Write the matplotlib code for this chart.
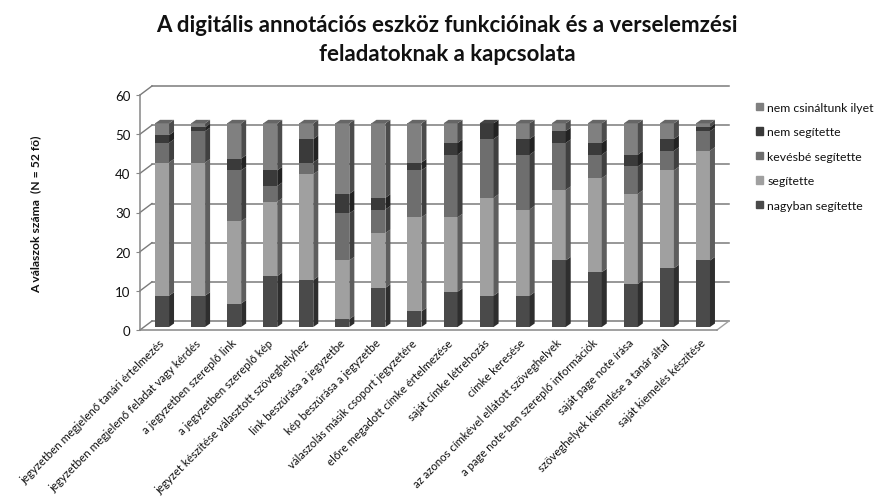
import matplotlib
matplotlib.use('Agg')
import matplotlib.pyplot as plt
from matplotlib.patches import Polygon
from matplotlib.transforms import ScaledTranslation

plt.rcParams['font.family'] = ['Lato', 'DejaVu Sans']

kategoriak = ['jegyzetben megjelenő tanári értelmezés',
              'jegyzetben megjelenő feladat vagy kérdés',
              'a jegyzetben szereplő link',
              'a jegyzetben szereplő kép',
              'jegyzet készítése választott szöveghelyhez',
              'link beszúrása a jegyzetbe',
              'kép beszúrása a jegyzetbe',
              'válaszolás másik csoport jegyzetére',
              'előre megadott címke értelmezése',
              'saját címke létrehozás',
              'címke keresése',
              'az azonos címkével ellátott szöveghelyek',
              'a page note-ben szereplő információk',
              'saját page note írása',
              'szöveghelyek kiemelése a tanár által',
              'saját kiemelés készítése']

nagyban = [8, 8, 6, 13, 12, 2, 10, 4, 9, 8, 8, 17, 14, 11, 15, 17]
segitette = [34, 34, 21, 19, 27, 15, 14, 24, 19, 25, 22, 18, 24, 23, 25, 28]
kevesbe = [5, 8, 13, 4, 3, 12, 6, 12, 16, 15, 14, 12, 6, 7, 5, 5]
nem_seg = [2, 1, 3, 4, 6, 5, 3, 2, 3, 4, 4, 3, 3, 3, 3, 1]
nem_csin = [3, 1, 9, 12, 4, 18, 19, 10, 5, 0, 4, 2, 5, 8, 4, 1]

sorozatok = [nagyban, segitette, kevesbe, nem_seg, nem_csin]
nevek = ['nagyban segítette', 'segítette', 'kevésbé segítette', 'nem segítette', 'nem csináltunk ilyet']
szinek = ['#4a4a4a', '#a0a0a0', '#6e6e6e', '#3a3a3a', '#808080']
oldal = ['#2e2e2e', '#5e5e5e', '#404040', '#222222', '#4c4c4c']
teteje = ['#5c5c5c', '#808080', '#606060', '#444444', '#666666']
y_ticks = [0, 10, 20, 30, 40, 50, 60]

fig = plt.figure(figsize=(8.91, 5.02), dpi=100)
ax = fig.add_axes([140 / 891, (502 - 331) / 502, 577 / 891, 235 / 502])
ax.set_xlim(0, 16)
ax.set_ylim(0, 60)

# pixel -> adat egyseg a 3D hatashoz
px_x = 16 / 577
px_y = 60 / 235
fal_dx, fal_dy = 12 * px_x, 9 * px_y
bar_dx, bar_dy = 4 * px_x, 3 * px_y
mely_dx, mely_dy = 5 * px_x, 3.5 * px_y
szel = 14 * px_x

racs = '#7a7a7a'
for v in y_ticks:
    ax.plot([fal_dx, 16 + fal_dx], [v + fal_dy, v + fal_dy], color=racs, lw=1.1, clip_on=False, zorder=1)
    ax.plot([0, fal_dx], [v, v + fal_dy], color=racs, lw=1.0, clip_on=False, zorder=1)
ax.plot([16, 16 + fal_dx], [0, fal_dy], color='#a0a0a0', lw=1.0, clip_on=False, zorder=1)

for i in range(len(kategoriak)):
    x = i + 0.5 + bar_dx
    lent = bar_dy
    for s in range(len(sorozatok)):
        v = sorozatok[s][i]
        if v == 0:
            continue
        ax.bar(x, v, width=szel, bottom=lent, color=szinek[s], zorder=3, clip_on=False)
        jobb = x + szel / 2
        ax.add_patch(Polygon([(jobb, lent), (jobb + mely_dx, lent + mely_dy),
                              (jobb + mely_dx, lent + v + mely_dy), (jobb, lent + v)],
                             closed=True, color=oldal[s], lw=0, zorder=4, clip_on=False))
        lent += v
        felso = s
    bal = x - szel / 2
    jobb = x + szel / 2
    ax.add_patch(Polygon([(bal, lent), (jobb, lent), (jobb + mely_dx, lent + mely_dy), (bal + mely_dx, lent + mely_dy)],
                         closed=True, color=teteje[felso], lw=0, zorder=4, clip_on=False))

for sp in ['top', 'right']:
    ax.spines[sp].set_visible(False)
for sp in ['left', 'bottom']:
    ax.spines[sp].set_color('#868686')
    ax.spines[sp].set_linewidth(1.1)

ax.set_yticks(y_ticks)
ax.tick_params(axis='y', length=3, color='#868686', labelsize=9.5, pad=4, labelcolor='#111111')
ax.set_xticks([i + 0.5 + bar_dx for i in range(len(kategoriak))])
ax.set_xticklabels(kategoriak, rotation=45, ha='right', va='top', rotation_mode='anchor', fontsize=8.2, color='#111111')
ax.tick_params(axis='x', length=0, pad=5)
eltol = ScaledTranslation(-3 / 100, 0, fig.dpi_scale_trans)
for t in ax.get_xticklabels():
    t.set_transform(t.get_transform() + eltol)

fig.text(447 / 891, 1 - 40 / 502, 'A digitális annotációs eszköz funkcióinak és a verselemzési\nfeladatoknak a kapcsolata',
         ha='center', va='center', fontsize=16, fontweight='bold', linespacing=1.45, color='#111111')
fig.text(36 / 891, 1 - 214 / 502, 'A válaszok száma  (N = 52 fő)', rotation=90, ha='center', va='center',
         fontsize=8.7, fontweight='bold', color='#111111')

handles = [plt.Rectangle((0, 0), 1, 1, color=c) for c in szinek][::-1]
fig.legend(handles, nevek[::-1], loc='upper left', bbox_to_anchor=(756 / 891, 1 - 103 / 502), frameon=False,
           fontsize=8.8, handlelength=0.58, handleheight=0.58, handletextpad=0.33, labelspacing=1.1,
           borderpad=0, borderaxespad=0, labelcolor='#111111')

fig.savefig('out.png', dpi=100)
